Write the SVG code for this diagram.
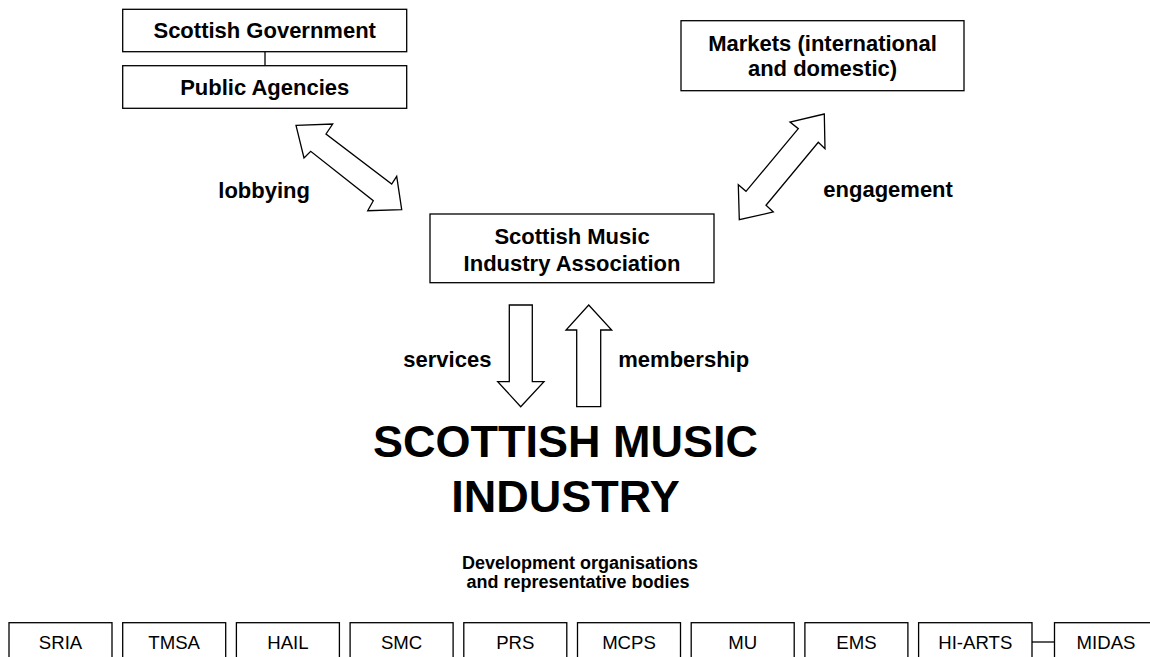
<svg xmlns="http://www.w3.org/2000/svg" width="1150" height="657" viewBox="0 0 1150 657">
<style>
.box{fill:#fff;stroke:#000;stroke-width:1.3}
.arr{fill:#fff;stroke:#000;stroke-width:1.3;stroke-linejoin:miter}
.ln{stroke:#000;stroke-width:1.3;fill:none}
text{font-family:"Liberation Sans",Arial,sans-serif;fill:#000}
.b22{font-size:22px;font-weight:bold}
.b45{font-size:45px;font-weight:bold}
.b18{font-size:18px;font-weight:bold}
.r{font-size:18.6px}
.m{text-anchor:middle}
</style>
<rect width="1150" height="657" fill="#fff"/>
<g id="connectors">
<line class="ln" x1="265" y1="51.7" x2="265" y2="65.7"/>
<line class="ln" x1="1032" y1="642" x2="1054.5" y2="642"/>
<polygon id="lobbying-arrow" class="arr" points="296,125.3 332.7,124 326,134 391.7,184 396.7,176.3 401.7,209.7 367.7,210.7 373.3,200.7 310.7,151.3 304,158"/>
<polygon id="engagement-arrow" class="arr" points="824.3,114 790,122 798.3,128.7 746,191.3 738.3,184.7 739.3,219.7 773.3,212 766,205.3 818.3,142.3 825,148.7"/>
<polygon id="services-arrow" class="arr" points="509.3,305 532.3,305 532.3,381.7 544,381.7 520.7,406.7 497.7,381.7 509.3,381.7"/>
<polygon id="membership-arrow" class="arr" points="588.7,305 611.7,330 600.7,330 600.7,406.7 576.7,406.7 576.7,330 566,330"/>
<text class="b22" x="218.3" y="198.3">lobbying</text>
<text class="b22" x="823.3" y="196.7">engagement</text>
<text class="b22" x="403.3" y="366.7">services</text>
<text class="b22" x="618.3" y="366.7">membership</text>
</g>
<g id="scottish-government">
<rect class="box" x="122.7" y="9.3" width="284" height="42.4"/>
<text class="b22 m" x="264.7" y="38.4">Scottish Government</text>
</g>
<g id="public-agencies">
<rect class="box" x="122.7" y="65.7" width="284" height="42.6"/>
<text class="b22 m" x="264.7" y="94.9">Public Agencies</text>
</g>
<g id="markets">
<rect class="box" x="681" y="20.7" width="283" height="70"/>
<text class="b22 m" x="822.5" y="50.5">Markets (international</text>
<text class="b22 m" x="822.5" y="75.5">and domestic)</text>
</g>
<g id="smia">
<rect class="box" x="430" y="214" width="284" height="68.7"/>
<text class="b22 m" x="572" y="244.3">Scottish Music</text>
<text class="b22 m" x="572" y="271">Industry Association</text>
</g>
<g id="industry">
<text class="b45 m" x="565.5" y="456.7">SCOTTISH MUSIC</text>
<text class="b45 m" x="565.5" y="511.7">INDUSTRY</text>
</g>
<g id="dev-label">
<text class="b18 m" x="580" y="569.3">Development organisations</text>
<text class="b18 m" x="578" y="588.3">and representative bodies</text>
</g>
<g id="sria"><rect class="box" x="9" y="622.7" width="103" height="50"/><text class="r m" x="60.5" y="649">SRIA</text></g>
<g id="tmsa"><rect class="box" x="122.7" y="622.7" width="103" height="50"/><text class="r m" x="174.2" y="649">TMSA</text></g>
<g id="hail"><rect class="box" x="236.4" y="622.7" width="103" height="50"/><text class="r m" x="287.9" y="649">HAIL</text></g>
<g id="smc"><rect class="box" x="350.1" y="622.7" width="103" height="50"/><text class="r m" x="401.6" y="649">SMC</text></g>
<g id="prs"><rect class="box" x="463.8" y="622.7" width="103" height="50"/><text class="r m" x="515.3" y="649">PRS</text></g>
<g id="mcps"><rect class="box" x="577.5" y="622.7" width="103" height="50"/><text class="r m" x="629" y="649">MCPS</text></g>
<g id="mu"><rect class="box" x="691.2" y="622.7" width="103" height="50"/><text class="r m" x="742.7" y="649">MU</text></g>
<g id="ems"><rect class="box" x="804.9" y="622.7" width="103" height="50"/><text class="r m" x="856.4" y="649">EMS</text></g>
<g id="hi-arts"><rect class="box" x="918.6" y="622.7" width="113.4" height="50"/><text class="r m" x="975.3" y="649">HI-ARTS</text></g>
<g id="midas"><rect class="box" x="1054.5" y="622.7" width="103" height="50"/><text class="r m" x="1106" y="649">MIDAS</text></g>
</svg>
